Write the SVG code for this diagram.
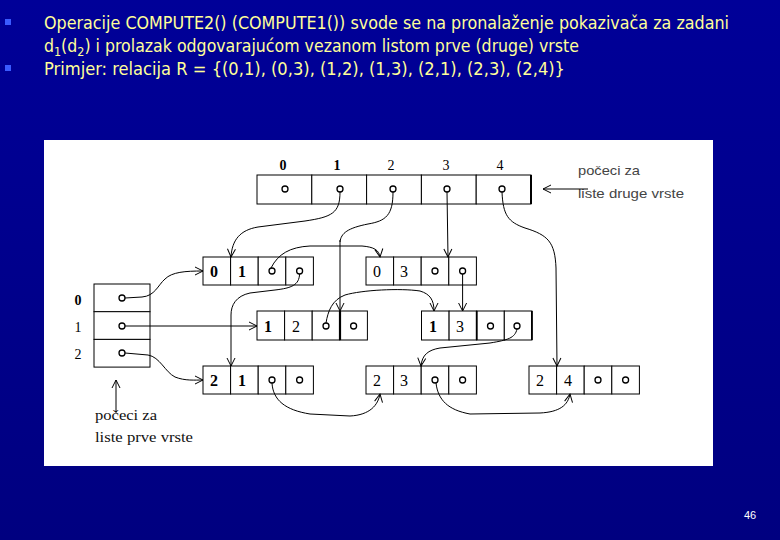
<svg xmlns="http://www.w3.org/2000/svg" width="780" height="540" viewBox="0 0 780 540">
<defs>
<linearGradient id="bg" x1="0" y1="0" x2="0" y2="1">
<stop offset="0" stop-color="#000098"/>
<stop offset="1" stop-color="#000080"/>
</linearGradient>
<marker id="ah" viewBox="0 0 10 10" refX="9" refY="5" markerWidth="10" markerHeight="10" markerUnits="userSpaceOnUse" orient="auto">
<path d="M1,1 L9,5 L1,9" fill="none" stroke="#000" stroke-width="1"/>
</marker>
<style>
.hd{font-family:"DejaVu Sans Condensed","Liberation Sans Narrow","Liberation Sans",sans-serif;font-size:17px;fill:#FFFF99}
.bul{fill:#3A5BFF}
.cell{fill:#fff;stroke:#000;stroke-width:1}
.ptr{fill:#fff;stroke:#000;stroke-width:1.3}
.dg{font-family:"Liberation Serif","DejaVu Serif",serif;font-size:16px;fill:#000;text-anchor:middle}
.lb{font-family:"Liberation Serif","DejaVu Serif",serif;font-size:14px;fill:#000;text-anchor:middle}
.cn{fill:none;stroke:#000;stroke-width:1}
.note{font-family:"Liberation Sans","DejaVu Sans",sans-serif;font-size:13px;fill:#444}
.note2{font-family:"Liberation Serif","DejaVu Serif",serif;font-size:14px;fill:#111}
</style>
</defs>
<rect x="0" y="0" width="780" height="540" fill="url(#bg)"/>

<g id="header">
<rect class="bul" x="5" y="19" width="6" height="6"/>
<rect class="bul" x="5" y="65" width="6" height="6"/>
<text class="hd" x="44" y="29" textLength="685" lengthAdjust="spacingAndGlyphs">Operacije COMPUTE2() (COMPUTE1()) svode se na pronalaženje pokazivača za zadani</text>
<text class="hd" x="44" y="52" textLength="535" lengthAdjust="spacingAndGlyphs">d<tspan dy="4" font-size="12">1</tspan><tspan dy="-4">(d</tspan><tspan dy="4" font-size="12">2</tspan><tspan dy="-4">) i prolazak odgovarajućom vezanom listom prve (druge) vrste</tspan></text>
<text class="hd" x="44" y="75" textLength="521" lengthAdjust="spacingAndGlyphs">Primjer: relacija R = {(0,1), (0,3), (1,2), (1,3), (2,1), (2,3), (2,4)}</text>
</g>

<rect x="44" y="140" width="669" height="326" fill="#fff"/>

<g id="top-array">
<rect class="cell" x="257" y="175" width="54.8" height="29"/>
<rect class="cell" x="311.8" y="175" width="54.8" height="29"/>
<rect class="cell" x="366.6" y="175" width="54.8" height="29"/>
<rect class="cell" x="421.4" y="175" width="54.8" height="29"/>
<rect class="cell" x="476.2" y="175" width="54.8" height="29"/>
<line x1="531" y1="175" x2="531" y2="204" stroke="#000" stroke-width="2"/>
<circle class="ptr" cx="285" cy="189" r="3"/>
<circle class="ptr" cx="340" cy="189" r="3"/>
<circle class="ptr" cx="393" cy="189" r="3"/>
<circle class="ptr" cx="447" cy="189" r="3"/>
<circle class="ptr" cx="502" cy="189" r="3"/>
<text class="lb" x="283" y="170" font-weight="bold">0</text>
<text class="lb" x="337" y="170" font-weight="bold">1</text>
<text class="lb" x="391" y="170">2</text>
<text class="lb" x="446" y="170">3</text>
<text class="lb" x="500" y="170">4</text>
<text class="note" x="578" y="175" textLength="62" lengthAdjust="spacingAndGlyphs">počeci za</text>
<text class="note" x="578" y="198" textLength="106" lengthAdjust="spacingAndGlyphs">liste druge vrste</text>
</g>

<g id="left-array">
<rect class="cell" x="94" y="284" width="56" height="27.7"/>
<rect class="cell" x="94" y="311.7" width="56" height="27.7"/>
<rect class="cell" x="94" y="339.4" width="56" height="27.7"/>
<circle class="ptr" cx="122" cy="298" r="3"/>
<circle class="ptr" cx="122" cy="326" r="3"/>
<circle class="ptr" cx="122" cy="353" r="3"/>
<text class="lb" x="78" y="305" font-weight="bold">0</text>
<text class="lb" x="78" y="332">1</text>
<text class="lb" x="78" y="359">2</text>
<text class="note2" x="95" y="420" textLength="62" lengthAdjust="spacingAndGlyphs">počeci za</text>
<text class="note2" x="95" y="442" textLength="98" lengthAdjust="spacingAndGlyphs">liste prve vrste</text>
</g>

<g id="node-01">
<rect class="cell" x="203" y="257" width="27.6" height="28"/>
<rect class="cell" x="230.6" y="257" width="27.6" height="28"/>
<rect class="cell" x="258.2" y="257" width="27.6" height="28"/>
<rect class="cell" x="285.8" y="257" width="27.6" height="28"/>
<text class="dg" x="214" y="277" font-weight="bold">0</text>
<text class="dg" x="242" y="277" font-weight="bold">1</text>
<circle class="ptr" cx="272" cy="271" r="3"/>
<circle class="ptr" cx="299.6" cy="271" r="3"/>
</g>

<g id="node-03">
<rect class="cell" x="366" y="257" width="27.6" height="28"/>
<rect class="cell" x="393.6" y="257" width="27.6" height="28"/>
<rect class="cell" x="421.2" y="257" width="27.6" height="28"/>
<rect class="cell" x="448.8" y="257" width="27.6" height="28"/>
<text class="dg" x="377" y="277">0</text>
<text class="dg" x="404" y="277">3</text>
<circle class="ptr" cx="435" cy="271" r="3"/>
<circle class="ptr" cx="462.6" cy="271" r="3"/>
</g>

<g id="node-12">
<rect class="cell" x="257" y="311" width="27.6" height="29"/>
<rect class="cell" x="284.6" y="311" width="27.6" height="29"/>
<rect class="cell" x="312.2" y="311" width="27.6" height="29"/>
<rect class="cell" x="339.8" y="311" width="27.6" height="29"/>
<line x1="340" y1="311" x2="340" y2="340" stroke="#000" stroke-width="2.2"/>
<text class="dg" x="268" y="332" font-weight="bold">1</text>
<text class="dg" x="296" y="332">2</text>
<circle class="ptr" cx="326" cy="326" r="3"/>
<circle class="ptr" cx="353.6" cy="326" r="3"/>
</g>

<g id="node-13">
<rect class="cell" x="421.5" y="311" width="27.6" height="29"/>
<rect class="cell" x="449.1" y="311" width="27.6" height="29"/>
<rect class="cell" x="476.7" y="311" width="27.6" height="29"/>
<rect class="cell" x="504.3" y="311" width="27.6" height="29"/>
<line x1="476.7" y1="311" x2="476.7" y2="340" stroke="#000" stroke-width="1.8"/>
<line x1="531.9" y1="311" x2="531.9" y2="340" stroke="#000" stroke-width="1.8"/>
<text class="dg" x="433" y="332" font-weight="bold">1</text>
<text class="dg" x="460" y="332">3</text>
<circle class="ptr" cx="490.5" cy="326" r="3"/>
<circle class="ptr" cx="517" cy="326" r="3"/>
</g>

<g id="node-21">
<rect class="cell" x="203" y="366" width="27.6" height="28"/>
<rect class="cell" x="230.6" y="366" width="27.6" height="28"/>
<rect class="cell" x="258.2" y="366" width="27.6" height="28"/>
<rect class="cell" x="285.8" y="366" width="27.6" height="28"/>
<text class="dg" x="214" y="386" font-weight="bold">2</text>
<text class="dg" x="242" y="386" font-weight="bold">1</text>
<circle class="ptr" cx="272" cy="380" r="3"/>
<circle class="ptr" cx="299.6" cy="380" r="3"/>
</g>

<g id="node-23">
<rect class="cell" x="366" y="366" width="27.6" height="28"/>
<rect class="cell" x="393.6" y="366" width="27.6" height="28"/>
<rect class="cell" x="421.2" y="366" width="27.6" height="28"/>
<rect class="cell" x="448.8" y="366" width="27.6" height="28"/>
<text class="dg" x="377" y="386">2</text>
<text class="dg" x="404" y="386">3</text>
<circle class="ptr" cx="435" cy="380" r="3"/>
<circle class="ptr" cx="462.6" cy="380" r="3"/>
</g>

<g id="node-24">
<rect class="cell" x="529" y="366" width="27.6" height="28"/>
<rect class="cell" x="556.6" y="366" width="27.6" height="28"/>
<rect class="cell" x="584.2" y="366" width="27.6" height="28"/>
<rect class="cell" x="611.8" y="366" width="27.6" height="28"/>
<text class="dg" x="540" y="386">2</text>
<text class="dg" x="568" y="386">4</text>
<circle class="ptr" cx="598" cy="380" r="3"/>
<circle class="ptr" cx="625.6" cy="380" r="3"/>
</g>

<g id="connectors">
<path class="cn" marker-end="url(#ah)" d="M588,189 L543,189"/>
<path class="cn" marker-end="url(#ah)" d="M116,413 L116,380"/>
<path class="cn" marker-end="url(#ah)" d="M340,192 C340,213 332,217 305,221 L258,227 C240,230 232,240 231,257"/>
<path class="cn" d="M393,192 C393,215 386,221 368,224 C348,228 341,233 340,242"/>
<path class="cn" stroke-width="2.2" marker-end="url(#ah)" d="M340,240 L340,311"/>
<path class="cn" marker-end="url(#ah)" d="M447,192 L448,257"/>
<path class="cn" marker-end="url(#ah)" d="M502,192 C503,215 508,222 525,228 C548,235 555,242 556,268 L557,366"/>
<path class="cn" marker-end="url(#ah)" d="M125,298 L142,297 C155,296 158,285 165,279 C172,272 185,271 203,271"/>
<path class="cn" marker-end="url(#ah)" d="M125,326 L257,326"/>
<path class="cn" marker-end="url(#ah)" d="M125,353 L148,355 C160,357 165,372 175,377 C185,381 195,380 203,380"/>
<path class="cn" marker-end="url(#ah)" d="M271,268 C278,254 290,247 310,246 L362,246 C374,247 379,250 380,257"/>
<path class="cn" marker-end="url(#ah)" d="M299.6,274 C299,285 292,288 275,290 L250,293 C236,296 231,305 231,315 L231,366"/>
<path class="cn" marker-end="url(#ah)" d="M326,323 C328,311 332,300 345,295 C362,290 400,288 420,291 C430,294 434,300 434,311"/>
<path class="cn" marker-end="url(#ah)" d="M462.6,274 L462.6,311"/>
<path class="cn" marker-end="url(#ah)" d="M517,329 C515,338 508,340 490,343 L440,348 C428,350 422,355 421,366"/>
<path class="cn" marker-end="url(#ah)" d="M272,383 C273,400 285,410 310,414 L350,416 C370,415 378,405 380,394"/>
<path class="cn" marker-end="url(#ah)" d="M436,383 C438,400 448,410 470,414 L540,413 C560,412 568,405 570,394"/>
</g>

<text x="750" y="519" font-family="Liberation Sans, DejaVu Sans, sans-serif" font-size="11" fill="#fff" text-anchor="middle">46</text>
</svg>
